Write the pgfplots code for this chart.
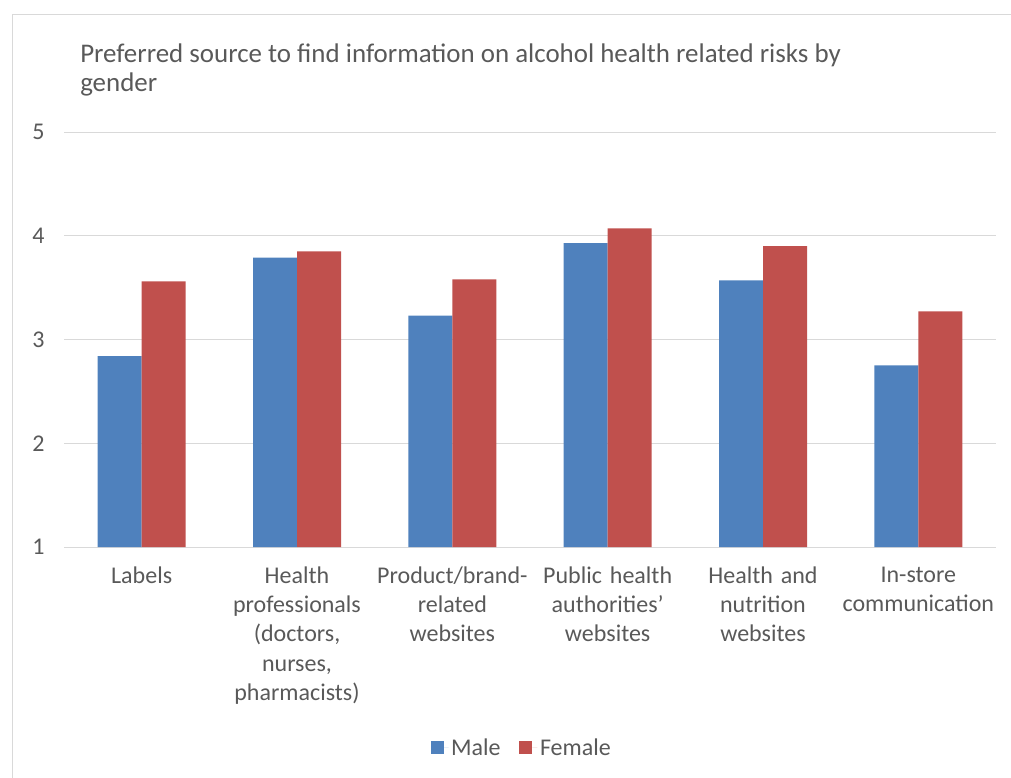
\documentclass[border=0pt]{standalone}
\usepackage{fontspec}
\setmainfont{Carlito}
\usepackage{pgfplots}
\usepackage{pgfplotstable}
\pgfplotsset{compat=1.18}
\definecolor{cblue}{HTML}{4F81BD}
\definecolor{cred}{HTML}{C0504D}
\definecolor{ctext}{HTML}{595959}
\definecolor{cgrid}{HTML}{D9D9D9}
\pgfplotstableread{
x male female
0 2.84 3.56
1 3.79 3.85
2 3.23 3.58
3 3.93 4.07
4 3.57 3.90
5 2.75 3.27
}\datatable
\begin{document}
\begin{tikzpicture}
\useasboundingbox (0,0) rectangle (758.25pt,-583.5pt);
\draw[cgrid, line width=0.75pt] (9pt,-600pt) -- (9pt,-10.5pt) -- (780pt,-10.5pt);
\node[anchor=base west, inner sep=0, text=ctext, font=\fontsize{20.2}{21.75}\selectfont] at (60pt,-46.5pt) {Preferred source to find information on alcohol health related risks by};
\node[anchor=base west, inner sep=0, text=ctext, font=\fontsize{20.2}{21.75}\selectfont] at (60pt,-68.25pt) {gender};
\begin{axis}[
  at={(48pt,-410.25pt)}, anchor=south west,
  width=699pt, height=311.25pt, scale only axis,
  xmin=-0.5, xmax=5.5, ymin=1, ymax=5,
  ytick={1,2,3,4,5},
  xtick={0,1,2,3,4,5},
  xticklabels={Labels, {Health\\professionals\\(doctors,\\nurses,\\pharmacists)}, {Product/brand-\\related\\websites}, {Public health\\authorities’\\websites}, {Health and\\nutrition\\websites}, {In-store\\communication}},
  ymajorgrids,
  grid style={cgrid, line width=0.75pt},
  axis line style={draw=none},
  major tick style={draw=none},
  /pgf/number format/assume math mode=true,
  tick label style={text=ctext, font=\fontsize{18}{21.9}\selectfont},
  xticklabel style={align=center, text width=118pt, anchor=north, yshift=-7pt},
  yticklabel style={anchor=east, xshift=-11pt},
  ybar=0pt, bar width=33pt,
  legend columns=2,
  legend style={draw=none, at={(0.4914,-0.484)}, anchor=center, font=\fontsize{18}{21.75}\selectfont, text=ctext,
    /tikz/every even column/.append style={column sep=12pt}},
  legend image code/.code={\draw[#1,draw=none] (0pt,-4.875pt) rectangle (9.75pt,4.875pt); \path (9.75pt,0pt) -- (13.5pt,0pt);},
]
\addplot[fill=cblue, draw=none] table[x=x, y=male] {\datatable};
\addplot[fill=cred, draw=none] table[x=x, y=female] {\datatable};
\legend{Male, Female}
\end{axis}
\end{tikzpicture}
\end{document}
